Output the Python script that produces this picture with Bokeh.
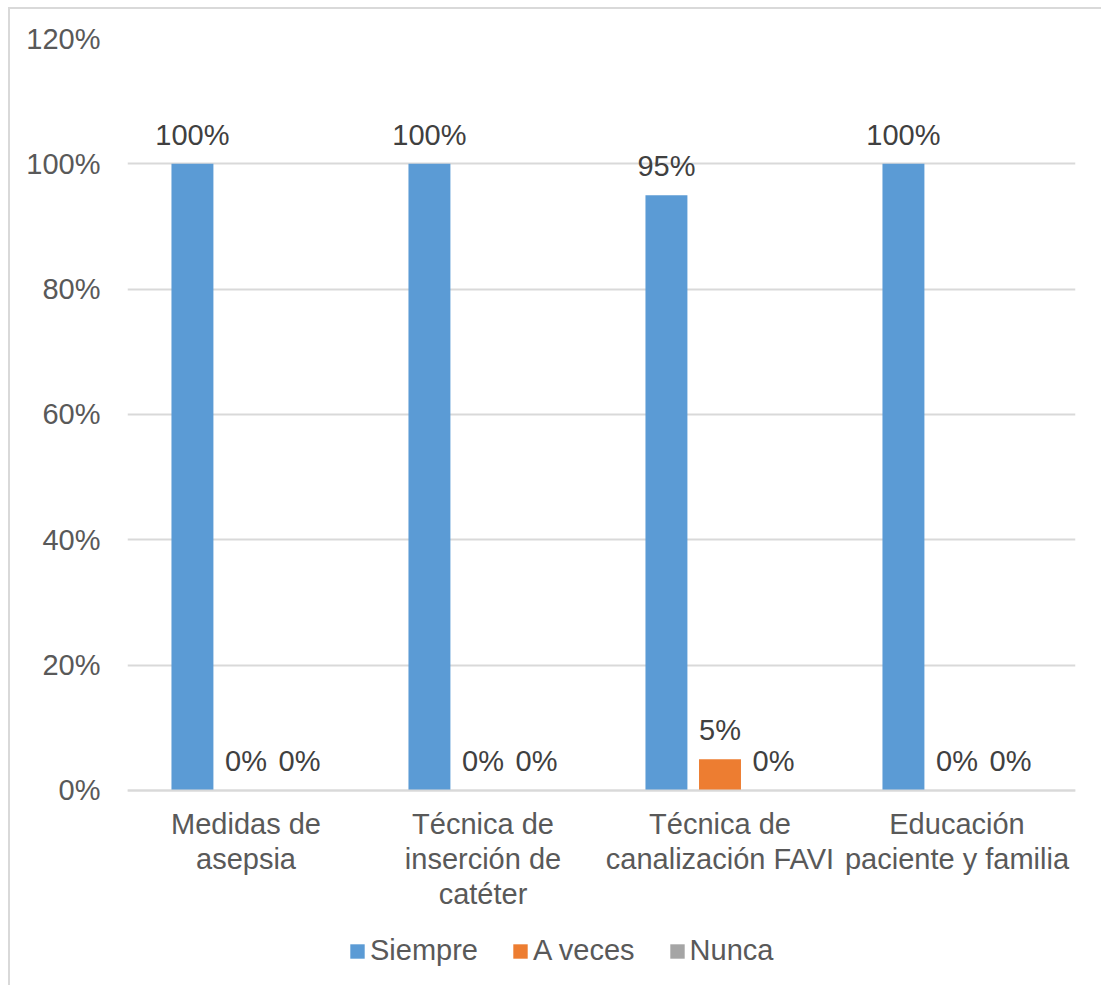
from bokeh.plotting import figure
from bokeh.models import (ColumnDataSource, FactorRange, Range1d, FixedTicker,
                          NumeralTickFormatter, Legend, LegendItem)
from bokeh.transform import dodge
from bokeh.core.properties import value
from bokeh.embed import file_html
from bokeh.resources import INLINE

categories = ["Medidas de\nasepsia",
              "Técnica de\ninserción de\ncatéter",
              "Técnica de\ncanalización FAVI",
              "Educación\npaciente y familia"]
series = ["Siempre", "A veces", "Nunca"]
siempre = [1.00, 1.00, 0.95, 1.00]
a_veces = [0.00, 0.00, 0.05, 0.00]
nunca = [0.00, 0.00, 0.00, 0.00]
colors = ["#5B9BD5", "#ED7D31", "#A5A5A5"]
y_ticks = [0, 0.2, 0.4, 0.6, 0.8, 1.0, 1.2]

FONT = value("Liberation Sans")
FS = "29px"

# frame spans from the 120% line down to the bottom so the legend fits inside
p = figure(x_range=FactorRange(*categories), y_range=Range1d(-0.3144, 1.2),
           width=1093, height=978, output_backend="svg", toolbar_location=None,
           min_border_left=117, min_border_right=28, min_border_top=29,
           min_border_bottom=0)
p.margin = (7, 0, 0, 8)
p.styles = {"border-left": "2px solid #D9D9D9", "border-top": "2px solid #D9D9D9"}
p.outline_line_color = None
p.background_fill_color = "white"
p.border_fill_color = "white"

offsets = [-0.226, 0.0, 0.226]
items = []
for name, vals, col, off in zip(series, [siempre, a_veces, nunca], colors, offsets):
    src = ColumnDataSource(dict(x=categories, y=vals,
                                label=[f"{round(v * 100)}%" for v in vals]))
    r = p.vbar(x=dodge("x", off, range=p.x_range), top="y", width=0.177,
               source=src, fill_color=col, line_color=None)
    p.text(x=dodge("x", off, range=p.x_range), y="y", text="label", source=src,
           text_align="center", text_baseline="alphabetic", y_offset=-29,
           text_font=FONT, text_font_size=FS, text_color="#404040")
    items.append(LegendItem(label=name, renderers=[r]))

legend = Legend(items=items, location=(221, 20), orientation="horizontal",
                label_text_font="Liberation Sans", label_text_font_size=FS,
                label_text_color="#595959", glyph_width=18, glyph_height=18,
                label_standoff=4, spacing=33, padding=0, margin=0,
                border_line_color=None, background_fill_alpha=0)
p.add_layout(legend)

p.yaxis.ticker = FixedTicker(ticks=y_ticks)
p.yaxis.formatter = NumeralTickFormatter(format="0%")
p.yaxis.axis_line_color = None
p.yaxis.major_tick_line_color = None
p.yaxis.major_tick_out = 0
p.yaxis.major_tick_in = 0
p.yaxis.minor_tick_line_color = None
p.yaxis.major_label_standoff = 27
p.yaxis.major_label_text_font = "Liberation Sans"
p.yaxis.major_label_text_font_size = FS
p.yaxis.major_label_text_color = "#595959"

p.xaxis.fixed_location = 0
p.xaxis.axis_line_color = "#D9D9D9"
p.xaxis.axis_line_width = 2
p.xaxis.major_tick_line_color = None
p.xaxis.major_tick_out = 0
p.xaxis.major_tick_in = 0
p.xaxis.minor_tick_line_color = None
p.xaxis.major_label_standoff = 18
p.xaxis.major_label_text_font = "Liberation Sans"
p.xaxis.major_label_text_font_size = FS
p.xaxis.major_label_text_color = "#595959"
p.xaxis.major_label_text_line_height = 1.08

p.xgrid.grid_line_color = None
p.ygrid.grid_line_color = "#D9D9D9"
p.ygrid.grid_line_width = 2

open("out.html", "w").write(file_html(p, INLINE))
